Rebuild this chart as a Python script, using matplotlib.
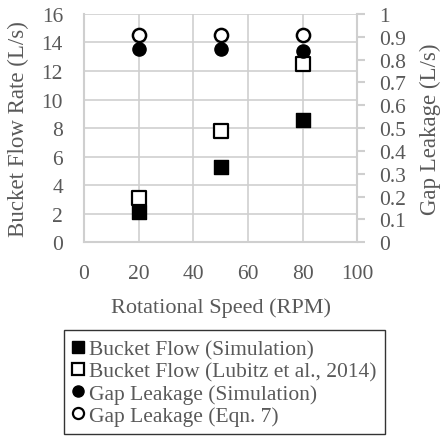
import matplotlib.pyplot as plt
from matplotlib.lines import Line2D

plt.rcParams["font.family"] = ["Liberation Serif", "DejaVu Serif"]

rpm = [20, 50, 80]
bucket_sim = [2.1, 5.3, 8.6]
bucket_lubitz = [3.1, 7.8, 12.5]
gap_sim = [0.845, 0.845, 0.838]
gap_eqn = [0.908, 0.908, 0.908]

text_col = "#595959"
grid_col = "#cfcfcf"

fig = plt.figure(figsize=(4.46, 4.39), dpi=100)
ax1 = fig.add_axes([0.188, 0.446, 0.613, 0.52])
ax2 = ax1.twinx()

# bucket flow on the left axis, gap leakage on the right
ax1.scatter(rpm, bucket_sim, marker="s", s=100, color="black", zorder=3)
ax1.scatter(rpm, bucket_lubitz, marker="s", s=100, facecolor="white",
            edgecolor="black", linewidth=1.6, zorder=4)
ax2.scatter(rpm, gap_sim, marker="o", s=90, color="black", zorder=3)
ax2.scatter(rpm, gap_eqn, marker="o", s=90, facecolor="white",
            edgecolor="black", linewidth=1.8, zorder=4)

ax1.set_xlim(0, 100)
ax1.set_ylim(0, 16)
ax2.set_ylim(0, 1)
ax1.set_xticks(range(0, 101, 20))
ax1.set_yticks(range(0, 17, 2))
ax2.set_yticks([i / 10 for i in range(11)])
ax2.set_yticklabels(["0"] + ["0.%d" % i for i in range(1, 10)] + ["1"])

ax1.grid(True, color=grid_col, linewidth=1.2)
ax1.set_axisbelow(True)
for name in ("top", "right"):
    ax1.spines[name].set_visible(False)
for name in ("top", "left", "bottom"):
    ax2.spines[name].set_visible(False)
for s in (ax1.spines["left"], ax1.spines["bottom"], ax2.spines["right"]):
    s.set_color(grid_col)
    s.set_linewidth(1.5)

ax1.tick_params(axis="x", length=0, labelsize=15.5, labelcolor=text_col, pad=16)
ax1.tick_params(axis="y", length=0, labelsize=15.5, labelcolor=text_col, pad=15)
ax2.tick_params(axis="y", length=6, width=1.5, color=grid_col, labelsize=15.5,
                labelcolor=text_col, pad=9.5)

ax1.set_xlabel("Rotational Speed (RPM)", fontsize=16, color=text_col, labelpad=10)
ax1.set_ylabel("Bucket Flow Rate (L/s)", fontsize=16.5, color=text_col, labelpad=9)
ax2.set_ylabel("Gap Leakage (L/s)", fontsize=16.5, color=text_col, labelpad=10)

handles = [
    Line2D([], [], ls="", marker="s", ms=8, color="black"),
    Line2D([], [], ls="", marker="s", ms=8, mfc="white", mec="black", mew=1.6),
    Line2D([], [], ls="", marker="o", ms=8, color="black"),
    Line2D([], [], ls="", marker="o", ms=8, mfc="white", mec="black", mew=1.6),
]
labels = ["Bucket Flow (Simulation)", "Bucket Flow (Lubitz et al., 2014)",
          "Gap Leakage (Simulation)", "Gap Leakage (Eqn. 7)"]
leg = fig.legend(handles, labels, loc="upper left",
                 bbox_to_anchor=(0.143, 0.245), fontsize=15.5, frameon=True,
                 fancybox=False, edgecolor="black", handlelength=0.55,
                 handletextpad=0.2, labelspacing=0.1, borderpad=0.4,
                 borderaxespad=0.0)
leg.get_frame().set_linewidth(1.0)
for t in leg.get_texts():
    t.set_color(text_col)

fig.savefig("out.png", dpi=100)
